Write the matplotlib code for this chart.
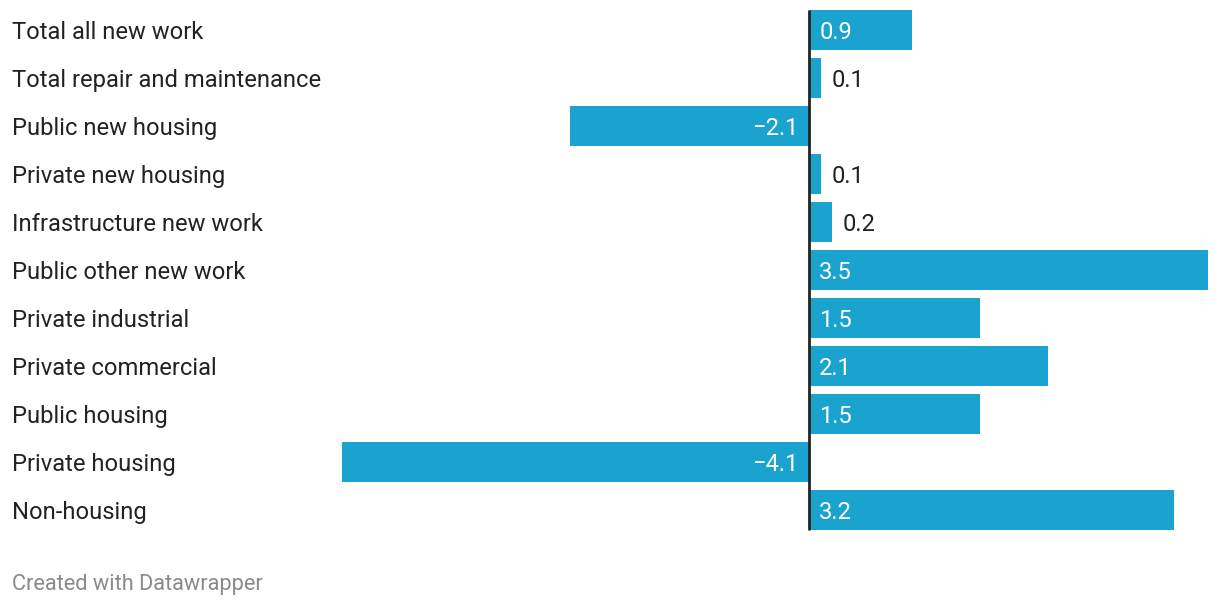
import matplotlib.pyplot as plt
import matplotlib.transforms as mtransforms

plt.rcParams['font.family'] = ['Roboto', 'DejaVu Sans']

categories = ['Total all new work', 'Total repair and maintenance', 'Public new housing',
              'Private new housing', 'Infrastructure new work', 'Public other new work',
              'Private industrial', 'Private commercial', 'Public housing',
              'Private housing', 'Non-housing']
values = [0.9, 0.1, -2.1, 0.1, 0.2, 3.5, 1.5, 2.1, 1.5, -4.1, 3.2]

W, H = 1220, 606
bar_color = '#1aa3cf'
text_color = '#222222'
fs = 17.1

fig = plt.figure(figsize=(W / 100, H / 100), dpi=100)
# axes placed in pixels: x=-4.1 at 342px, x=3.5 at 1208px; rows from 6px to 534px
ax = fig.add_axes([342 / W, (H - 534) / H, (1208 - 342) / W, 528 / H])
ax.set_xlim(-4.1, 3.5)
ax.set_ylim(len(categories) - 0.5, -0.5)
ax.axis('off')

ypos = list(range(len(categories)))
ax.barh(ypos, values, height=40 / 48, color=bar_color, zorder=1)
ax.vlines(0, -0.5 + 4 / 48, len(categories) - 0.5 - 4 / 48, color='#222222', lw=2, zorder=3)

px = 1 / 114.0  # data units per pixel
lab_tr = mtransforms.blended_transform_factory(fig.transFigure, ax.transData)
for y, cat, v in zip(ypos, categories, values):
    ax.text(12 / W, y, cat, transform=lab_tr, ha='left', va='center_baseline',
            fontsize=fs, color=text_color)
    s = f'{abs(v):.1f}' if v >= 0 else f'\u2212{abs(v):.1f}'
    if abs(v) < 0.5:
        ax.text(v + 11 * px, y, s, ha='left', va='center_baseline', fontsize=fs, color=text_color)
    elif v > 0:
        ax.text(10 * px, y, s, ha='left', va='center_baseline', fontsize=fs, color='white')
    else:
        ax.text(-11 * px, y, s, ha='right', va='center_baseline', fontsize=fs, color='white')

fig.text(12 / W, 1 - 582 / H, 'Created with Datawrapper', ha='left', va='center_baseline',
         fontsize=15.7, color='#8a8a8a')

fig.savefig('out.png', dpi=100)
